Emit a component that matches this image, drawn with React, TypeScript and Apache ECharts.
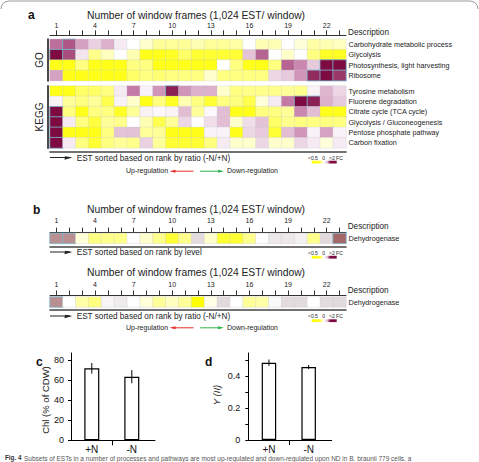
import React, { useEffect, useRef } from 'react';
import * as echarts from 'echarts';

const frames = ['1','2','3','4','5','6','7','8','9','10','11','12','13','14','15','16','17','18','19','20','21','22','23'];
const goTerms = ['Carbohydrate metabolic process', 'Glycolysis', 'Photosynthesis, light harvesting', 'Ribosome'];
const keggTerms = ['Tyrosine metabolism', 'Fluorene degradation', 'Citrate cycle (TCA cycle)', 'Glycolysis / Gluconeogenesis', 'Pentose phosphate pathway', 'Carbon fixation'];

const goCarbohydrate = [1.1, 1.3, 0.7, 0.35, 0.6, 0.15, 0, -0.2, -0.4, -0.4, -0.4, -0.3, -0.4, -0.4, -0.35, 0, -0.3, -0.3, 0, -0.15, -0.35, -0.3, -0.25];
const goGlycolysis = [2.0, 1.4, 0.2, -0.45, -0.25, 0, -0.3, -0.9, -0.9, -0.85, -0.6, -0.8, -0.8, -0.8, -0.8, 0.45, 1.2, 0, -0.2, 0, -0.5, -0.85, -0.85];
const goPhotosynthesis = [-0.9, -0.9, -0.5, -0.9, -0.9, -0.9, -0.5, -0.5, -0.9, -0.9, -0.9, -0.9, -0.9, 0, -0.5, -0.9, -0.9, -0.5, 1.2, 0.9, 0.4, 2.0, 2.0];
const goRibosome = [0.7, -0.9, -0.9, -0.9, -0.9, -0.9, -0.6, -0.5, -0.55, -0.5, -0.5, -0.5, -0.2, -0.5, -0.5, -0.5, -0.5, 0.3, 0.4, 0.8, 1.7, 2.0, 1.6];

const keggTyrosine = [-0.9, -0.9, -0.6, -0.6, -0.5, 0.15, 1.0, 0.1, 0.8, 1.8, 0.8, 0.6, 0.6, -0.2, -0.5, -0.45, -0.45, -0.45, -0.4, -0.45, 0.1, 0.55, 0.3];
const keggFluorene = [0.1, -0.4, -0.5, -0.4, -0.7, 0.1, -0.2, -0.9, -0.5, -0.85, -0.3, -0.5, -0.8, -0.5, -0.5, -0.7, -0.15, 0.15, 1.0, 2.0, 1.8, 0.6, 0.4];
const keggCitrate = [2.0, -0.5, -0.9, -0.5, -0.5, -0.85, -0.4, 0.1, 0.05, 0.1, 0.5, -0.4, 0.05, 0.5, -0.9, -0.9, -0.5, -0.5, -0.4, 0.9, 0.5, -0.9, -0.9];
const keggGlycolysis = [2.0, 0.15, -0.5, -0.75, -0.4, -0.45, 0, -0.3, -0.7, -0.4, 0.3, 0, 0.25, 0.5, -0.2, 0.25, 0.45, -0.6, -0.45, -0.5, -0.5, -0.5, -0.5];
const keggPentose = [2.0, -0.9, -0.9, -0.9, -0.5, 0.45, 0.45, -0.4, -0.4, -0.9, -0.9, -0.9, 0.1, 0.1, -0.9, 0.3, 0.4, -0.8, 0.5, 0.8, 0.1, 0.7, 0.1];
const keggCarbon = [2.0, 0.15, -0.5, -0.8, -0.5, -0.4, -0.45, 0.35, -0.4, -0.8, -0.8, -0.8, -0.5, 0.15, -0.2, -0.2, 0.3, -0.2, -0.2, 0.3, 0.15, -0.15, 0.15];

const dehydTerm = ['Dehydrogenase'];
const dehydByLevel = [1.6, 1.6, -0.15, -0.5, -0.45, -0.45, 0, -0.2, -0.45, -0.8, -0.45, 0.7, -0.2, -0.8, -0.8, -0.45, 0, 0.45, 0.45, 0.3, -0.45, 0.75, 2.0];
const dehydByRatio = [1.6, 0, -0.35, -0.5, 0.2, 0.4, 0, -0.15, -0.4, -0.25, -0.4, -1, -0.1, 0.75, 0, -0.4, -0.35, 0.1, 0.7, 0.7, 0, 0.7, 0.75];

const conditions = ['+N', '-N'];
const conditionPos = [1, 2];
const chlMean = [72, 63.6];
const chlErr = [5.3, 6.6];
const yiiMean = [0.486, 0.459];
const yiiErr = [0.02, 0.013];
const chlTicks = [0, 20, 40, 60, 80];
const yiiTicks = [0, 0.1, 0.2, 0.3, 0.4, 0.5];
const yiiLabels = [0, 0.2, 0.4];

const FONT = 'Liberation Sans, Arial, Helvetica, sans-serif';
const TITLE = 'Number of window frames (1,024 EST/ window)';

const hl = { borderColor: '#7ab8cc', borderWidth: 0.8 };

function heatData(rows: number[][], thr: number) {
  const out: any[] = [];
  rows.forEach((row, r) => row.forEach((v, c) => {
    out.push(v >= thr ? { value: [c, r, v], itemStyle: hl } : { value: [c, r, v] });
  }));
  return out;
}

function txt(text: string, x: number, y: number, o: any = {}) {
  return {
    type: 'text', x, y, rotation: o.rotation || 0, silent: true,
    style: {
      text, fontSize: o.size || 8, fontFamily: FONT,
      fontWeight: o.bold ? 'bold' : 'normal', fontStyle: o.italic ? 'italic' : 'normal',
      fill: o.color || '#222', textAlign: o.align || 'left', textVerticalAlign: o.valign || 'middle',
    },
  };
}

function estArrow(y: number) {
  return [
    { type: 'line', silent: true, shape: { x1: 50, y1: y, x2: 70, y2: y }, style: { stroke: '#222', lineWidth: 1 } },
    { type: 'polygon', silent: true, shape: { points: [[72.5, y], [65, y - 1.2], [64.5, y + 2.2]] }, style: { fill: '#222' } },
  ];
}

function regArrows(y: number) {
  return [
    txt('Up-regulation', 126, y, { size: 7 }),
    { type: 'line', silent: true, shape: { x1: 173, y1: y + 0.5, x2: 193.5, y2: y + 0.5 }, style: { stroke: '#e8302a', lineWidth: 1 } },
    { type: 'polygon', silent: true, shape: { points: [[169.5, y + 0.5], [175.5, y - 1], [175.5, y + 2]] }, style: { fill: '#e8302a' } },
    { type: 'line', silent: true, shape: { x1: 200, y1: y + 0.5, x2: 220.5, y2: y + 0.5 }, style: { stroke: '#2db34a', lineWidth: 1 } },
    { type: 'polygon', silent: true, shape: { points: [[224, y + 0.5], [218, y - 1], [218, y + 2]] }, style: { fill: '#2db34a' } },
    txt('Down-regulation', 227, y, { size: 7 }),
  ];
}

function fcLegend(yText: number, yBar: number) {
  return [
    txt('<0.5', 308, yText, { size: 5 }),
    txt('0', 322.3, yText, { size: 5 }),
    txt('>2 FC', 329, yText, { size: 5 }),
    {
      type: 'rect', silent: true, shape: { x: 311.7, y: yBar, width: 25, height: 2.8 },
      style: {
        fill: {
          type: 'linear', x: 0, y: 0, x2: 1, y2: 0,
          colorStops: [
            { offset: 0, color: '#ffff00' }, { offset: 0.33, color: '#ffff30' },
            { offset: 0.48, color: '#ffffff' }, { offset: 0.62, color: '#e8c8da' },
            { offset: 0.74, color: '#7d0a40' }, { offset: 1, color: '#7d0a40' },
          ],
        },
      },
    },
  ];
}

const heatTopAxis = (gridIndex: number, offset: number, margin: number) => ({
  gridIndex, type: 'category', data: frames, position: 'top', offset,
  axisLine: { show: true, lineStyle: { color: '#333', width: 1 } },
  axisTick: { show: true, interval: 0, alignWithLabel: true, length: 5, lineStyle: { color: '#333', width: 1 } },
  axisLabel: { interval: (i: number) => i % 3 === 0, fontSize: 7, margin, color: '#222', fontFamily: FONT },
  splitLine: { show: false },
});
const heatBottomAxis = (gridIndex: number, offset: number) => ({
  gridIndex, type: 'category', data: frames, position: 'bottom', offset,
  axisLine: { show: true, lineStyle: { color: '#444', width: 1.6 } },
  axisTick: { show: false }, axisLabel: { show: false }, splitLine: { show: false },
});
const rightLabels = (gridIndex: number, data: string[]) => ({
  gridIndex, type: 'category', data, inverse: true, position: 'right',
  axisLine: { show: false }, axisTick: { show: false },
  axisLabel: { fontSize: 7.2, margin: 2.5, color: '#222', fontFamily: FONT },
  splitLine: { show: false },
});
const leftBar = (gridIndex: number, data: string[]) => ({
  gridIndex, type: 'category', data, inverse: true, position: 'left', offset: 2.7,
  axisLine: { show: true, lineStyle: { color: '#4a4a4a', width: 2 } },
  axisTick: { show: false }, axisLabel: { show: false }, splitLine: { show: false },
});

const errRender = (params: any, api: any) => {
  const x = api.value(0);
  const p1 = api.coord([x, api.value(1)]);
  const p2 = api.coord([x, api.value(2)]);
  return { type: 'line', shape: { x1: p1[0], y1: p1[1], x2: p2[0], y2: p2[1] }, style: { stroke: '#000', lineWidth: 1 } };
};

export default function App() {
  const ref = useRef<HTMLDivElement>(null);
  useEffect(() => {
    if (!ref.current) return;
    const chart = echarts.init(ref.current, null, { renderer: 'svg', width: 479, height: 462 });
    const gridBase = { outerBoundsMode: 'none', containLabel: false };
    const barX = (gridIndex: number) => ({
      gridIndex, type: 'value', min: 0.48, max: 2.58,
      axisLine: { show: true, onZero: false, lineStyle: { color: '#000', width: 1 } },
      axisTick: { show: true, customValues: [1.5], length: 5, lineStyle: { color: '#000' } },
      axisLabel: { customValues: conditionPos, formatter: (v: number) => conditions[Math.round(v) - 1], fontSize: 10, margin: 4, color: '#111', fontFamily: FONT },
      splitLine: { show: false },
    });
    const option: any = {
      animation: false,
      backgroundColor: '#fff',
      textStyle: { fontFamily: FONT },
      grid: [
        { ...gridBase, left: 50, top: 39.3, width: 296, height: 41.4 },
        { ...gridBase, left: 50, top: 86, width: 296, height: 62 },
        { ...gridBase, left: 50, top: 233.4, width: 296, height: 10 },
        { ...gridBase, left: 50, top: 297, width: 296, height: 10 },
        { ...gridBase, left: 71, top: 353, width: 84, height: 87.3 },
        { ...gridBase, left: 248.3, top: 353, width: 83.4, height: 87 },
      ],
      xAxis: [
        heatTopAxis(0, 4, 6),
        heatBottomAxis(1, 3.7),
        heatTopAxis(2, 0.8, 8.5),
        heatBottomAxis(2, 3),
        heatTopAxis(3, 1.5, 8),
        heatBottomAxis(3, 3),
        barX(4),
        barX(5),
      ],
      yAxis: [
        rightLabels(0, goTerms),
        leftBar(0, goTerms),
        rightLabels(1, keggTerms),
        leftBar(1, keggTerms),
        rightLabels(2, dehydTerm),
        rightLabels(3, dehydTerm),
        {
          gridIndex: 4, type: 'value', min: 0, max: 87.3,
          axisLine: { show: true, onZero: false, lineStyle: { color: '#000', width: 1 } },
          axisTick: { show: true, customValues: chlTicks, length: 3, lineStyle: { color: '#000' } },
          axisLabel: { customValues: chlTicks, fontSize: 9, margin: 7, color: '#111', fontFamily: FONT },
          splitLine: { show: false },
        },
        {
          gridIndex: 5, type: 'value', min: 0, max: 0.547,
          axisLine: { show: true, onZero: false, lineStyle: { color: '#000', width: 1 } },
          axisTick: { show: true, customValues: yiiTicks, length: 3, lineStyle: { color: '#000' } },
          axisLabel: { customValues: yiiLabels, formatter: (v: number) => (v === 0 ? '0' : String(v)), fontSize: 9, margin: 8, color: '#111', fontFamily: FONT },
          splitLine: { show: false },
        },
      ],
      visualMap: [
        { type: 'continuous', show: false, seriesIndex: [0, 1], dimension: 2, min: -1, max: 2,
          inRange: { color: ['#ffff00', '#ffffff', '#c47aa6', '#7d0a40'] } },
        { type: 'continuous', show: false, seriesIndex: [2, 3], dimension: 2, min: -1, max: 2,
          inRange: { color: ['#ffff00', '#ffffff', '#d8ccd0', '#a56868'] } },
      ],
      series: [
        { type: 'heatmap', xAxisIndex: 0, yAxisIndex: 0,
          data: heatData([goCarbohydrate, goGlycolysis, goPhotosynthesis, goRibosome], 1.3),
          itemStyle: { borderColor: 'rgba(190,198,210,0.5)', borderWidth: 0.5 } },
        { type: 'heatmap', xAxisIndex: 1, yAxisIndex: 2,
          data: heatData([keggTyrosine, keggFluorene, keggCitrate, keggGlycolysis, keggPentose, keggCarbon], 1.3),
          itemStyle: { borderColor: 'rgba(190,198,210,0.5)', borderWidth: 0.5 } },
        { type: 'heatmap', xAxisIndex: 2, yAxisIndex: 4, data: heatData([dehydByLevel], 1.3),
          itemStyle: { borderColor: 'rgba(200,200,205,0.7)', borderWidth: 0.5 } },
        { type: 'heatmap', xAxisIndex: 4, yAxisIndex: 5, data: heatData([dehydByRatio], 1.3),
          itemStyle: { borderColor: 'rgba(200,200,205,0.7)', borderWidth: 0.5 } },
        { type: 'bar', xAxisIndex: 6, yAxisIndex: 6, barWidth: 15,
          data: conditionPos.map((p, i) => [p, chlMean[i]]),
          itemStyle: { color: '#fff', borderColor: '#000', borderWidth: 1.2 } },
        { type: 'custom', xAxisIndex: 6, yAxisIndex: 6, renderItem: errRender, encode: { x: 0, y: [1, 2] },
          data: conditionPos.map((p, i) => [p, chlMean[i] - chlErr[i], chlMean[i] + chlErr[i]]), z: 5 },
        { type: 'bar', xAxisIndex: 7, yAxisIndex: 7, barWidth: 14.5,
          data: conditionPos.map((p, i) => [p, yiiMean[i]]),
          itemStyle: { color: '#fff', borderColor: '#000', borderWidth: 1.2 } },
        { type: 'custom', xAxisIndex: 7, yAxisIndex: 7, renderItem: errRender, encode: { x: 0, y: [1, 2] },
          data: conditionPos.map((p, i) => [p, yiiMean[i] - yiiErr[i], yiiMean[i] + yiiErr[i]]), z: 5 },
      ],
      graphic: [
        { type: 'line', silent: true, shape: { x1: 9, y1: 1, x2: 470, y2: 1 }, style: { stroke: '#999', lineWidth: 1 } },
        { type: 'arc', silent: true, shape: { cx: 9, cy: 9, r: 8, startAngle: Math.PI, endAngle: Math.PI * 1.5 }, style: { stroke: '#999', fill: null, lineWidth: 1 } },
        { type: 'arc', silent: true, shape: { cx: 470, cy: 9, r: 8, startAngle: Math.PI * 1.5, endAngle: Math.PI * 2 }, style: { stroke: '#999', fill: null, lineWidth: 1 } },
        // panel a
        txt('a', 28, 15, { size: 12, bold: true, color: '#111' }),
        txt(TITLE, 196, 15, { size: 10.3, align: 'center' }),
        txt('Description', 348, 32.5, { size: 8.2 }),
        txt('GO', 39.5, 60, { size: 10, rotation: Math.PI / 2, align: 'center' }),
        txt('KEGG', 39.5, 117, { size: 10, rotation: Math.PI / 2, align: 'center' }),
        ...estArrow(157.5),
        txt('EST sorted based on rank by ratio (-N/+N)', 76.7, 158.3, { size: 8.2 }),
        ...fcLegend(157.5, 160.7),
        ...regArrows(170.7),
        // panel b
        txt('b', 33, 210, { size: 12, bold: true, color: '#111' }),
        txt(TITLE, 196, 209.3, { size: 10.3, align: 'center' }),
        txt('Description', 347.7, 226.7, { size: 8.2 }),
        ...estArrow(252),
        txt('EST sorted based on rank by level', 76.7, 252.7, { size: 8.2 }),
        ...fcLegend(252.5, 255.8),
        txt(TITLE, 196, 272.7, { size: 10.3, align: 'center' }),
        txt('Description', 347.7, 290, { size: 8.2 }),
        ...estArrow(316),
        txt('EST sorted based on rank by ratio (-N/+N)', 76.7, 316.7, { size: 8.2 }),
        ...fcLegend(316, 319.3),
        ...regArrows(327.3),
        // panels c, d
        txt('c', 36, 362, { size: 12, bold: true, color: '#111' }),
        txt('Chl (% of CDW)', 45, 400, { size: 9.5, rotation: Math.PI / 2, align: 'center' }),
        txt('d', 205, 362, { size: 12, bold: true, color: '#111' }),
        txt('Y (II)', 216.7, 395, { size: 9.5, rotation: Math.PI / 2, align: 'center', italic: true }),
        // caption
        txt('Fig. 4', 5, 454.5, { size: 6.3, bold: true, color: '#333', valign: 'top' }),
        txt('Subsets of ESTs in a number of processes and pathways are most up-regulated and down-regulated upon ND in B. braunii 779 cells. a', 24, 454.5, { size: 6.5, color: '#555', valign: 'top' }),
      ],
    };
    chart.setOption(option);
    return () => chart.dispose();
  }, []);
  return <div ref={ref} style={{ position: 'fixed', left: 0, top: 0, width: 479, height: 462, background: '#fff' }} />;
}
